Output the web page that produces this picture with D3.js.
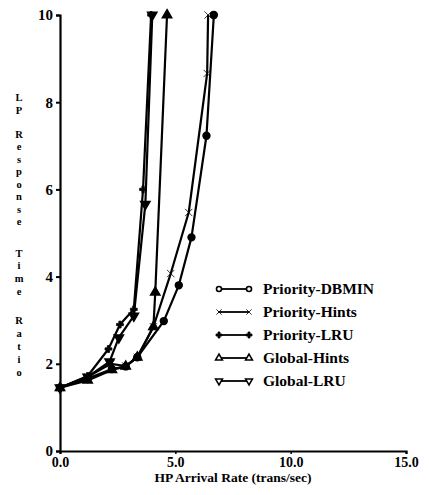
<!DOCTYPE html>
<html><head><meta charset="utf-8">
<script src="https://cdn.jsdelivr.net/npm/d3@7"></script>
<style>
body{margin:0;background:#fff;}
text{font-family:"Liberation Serif","DejaVu Serif",serif;font-weight:bold;fill:#000;}
</style></head>
<body><svg id="c" width="429" height="495"></svg>
<script>
const xTicks = [0, 5, 10, 15];
const xTickLabels = ["0.0", "5.0", "10.0", "15.0"];
const yTicks = [0, 2, 4, 6, 8, 10];
const yTickLabels = ["0", "2", "4", "6", "8", "10"];
const seriesNames = ["Priority-DBMIN", "Priority-Hints", "Priority-LRU", "Global-Hints", "Global-LRU"];
const seriesSymbols = ["circle", "cross", "plus", "triangle", "triangleDown"];
const dbminX = [0, 1.2, 2.25, 2.85, 3.35, 4.5, 5.15, 5.7, 6.35, 6.67];
const dbminY = [1.45, 1.66, 1.88, 1.94, 2.15, 2.98, 3.8, 4.9, 7.23, 10];
const pHintsX = [0, 1.2, 2.2, 2.85, 3.35, 4.05, 4.8, 5.58, 6.38, 6.42];
const pHintsY = [1.45, 1.7, 2.0, 1.95, 2.15, 2.85, 4.07, 5.47, 8.66, 10];
const pLruX = [0, 1.2, 2.1, 2.6, 3.2, 3.6, 3.95];
const pLruY = [1.45, 1.72, 2.34, 2.9, 3.25, 6.0, 10];
const gHintsX = [0, 1.2, 2.25, 2.85, 3.35, 4.05, 4.13, 4.64];
const gHintsY = [1.45, 1.62, 1.86, 1.94, 2.15, 2.85, 3.64, 10];
const gLruX = [0, 1.2, 2.15, 2.55, 3.2, 3.7, 4.0];
const gLruY = [1.45, 1.7, 2.05, 2.6, 3.1, 5.66, 10];
const seriesX = [dbminX, pHintsX, pLruX, gHintsX, gLruX];
const seriesY = [dbminY, pHintsY, pLruY, gHintsY, gLruY];
const yLabelWords = ["LP", "Response", "Time", "Ratio"];
const xTitle = "HP Arrival Rate (trans/sec)";

const svg = d3.select("#c");
const x = d3.scaleLinear().domain([0, 15]).range([60, 406]);
const y = d3.scaleLinear().domain([0, 10]).range([451, 15]);

// axes
const yAxis = svg.append("g").attr("transform", "translate(60,0)")
  .call(d3.axisLeft(y).tickValues(yTicks).tickFormat((d, i) => yTickLabels[i]).tickSize(4).tickPadding(3));
yAxis.select(".domain").attr("stroke-width", 2.2).attr("stroke", "#000");
yAxis.selectAll(".tick line").attr("stroke-width", 2);
yAxis.selectAll("text").attr("font-size", 15).attr("font-family", "Liberation Serif").attr("font-weight", "bold");

const xAxis = svg.append("g").attr("transform", "translate(0,451)")
  .call(d3.axisBottom(x).tickValues(xTicks).tickFormat((d, i) => xTickLabels[i]).tickSize(3).tickPadding(3));
xAxis.select(".domain").attr("stroke-width", 2.2).attr("stroke", "#000");
xAxis.selectAll(".tick line").attr("stroke-width", 1.5);
xAxis.selectAll("text").attr("font-size", 14).attr("font-family", "Liberation Serif").attr("font-weight", "bold");

// lines
const line = d3.line().x(d => x(d[0])).y(d => y(d[1]));
const symbolMap = {
  circle: d3.symbolCircle, cross: d3.symbolX, plus: d3.symbolCross,
  triangle: d3.symbolTriangle, triangleDown: d3.symbolTriangle
};
function drawSym(g, type, cx, cy, size, filled) {
  const p = g.append("path").attr("d", d3.symbol().type(symbolMap[type]).size(size)())
    .attr("transform", `translate(${cx},${cy})` + (type === "triangleDown" ? " rotate(180)" : ""));
  if (type === "cross" || type === "plus") {
    p.attr("fill", "#000").attr("stroke", "#000").attr("stroke-width", 0.8);
  } else {
    p.attr("fill", filled ? "#000" : "#fff").attr("stroke", "#000").attr("stroke-width", 1.6);
  }
}
seriesNames.forEach((name, i) => {
  const pts = seriesX[i].map((v, j) => [v, seriesY[i][j]]);
  svg.append("path").datum(pts).attr("d", line)
    .attr("fill", "none").attr("stroke", "#000").attr("stroke-width", 2.2).attr("stroke-linejoin", "round");
  const g = svg.append("g");
  const sz = seriesSymbols[i] === "plus" ? 26 : 36;
  pts.forEach(p => drawSym(g, seriesSymbols[i], x(p[0]), y(p[1]), sz, true));
});

// legend
const legY0 = 289, legStep = 23;
seriesNames.forEach((name, i) => {
  const ly = legY0 + i * legStep;
  const g = svg.append("g");
  g.append("line").attr("x1", 218).attr("x2", 249).attr("y1", ly).attr("y2", ly)
    .attr("stroke", "#000").attr("stroke-width", 1.8);
  drawSym(g, seriesSymbols[i], 219, ly, 20, false);
  drawSym(g, seriesSymbols[i], 249, ly, 20, false);
  g.append("text").attr("x", 263).attr("y", ly).attr("dy", "0.35em")
    .attr("font-size", 15.5).text(name);
});

// y label (stacked letters)
const wordStarts = [97, 134, 253, 320];
const wordSteps = [13, 12.5, 12.8, 13];
yLabelWords.forEach((w, wi) => {
  w.split("").forEach((ch, ci) => {
    svg.append("text").attr("x", 19).attr("y", wordStarts[wi] + ci * wordSteps[wi])
      .attr("dy", "0.35em").attr("text-anchor", "middle").attr("font-size", 10.5).text(ch);
  });
});

// x title
svg.append("text").attr("x", 233).attr("y", 482).attr("text-anchor", "middle")
  .attr("font-size", 13.5).text(xTitle);
</script></body></html>
